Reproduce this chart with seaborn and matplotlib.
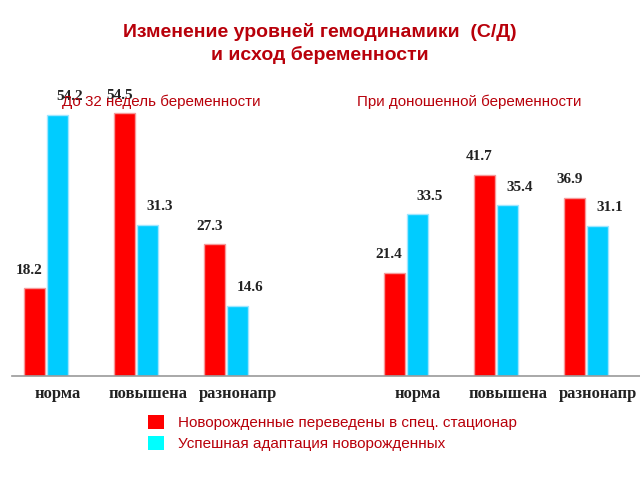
import pandas as pd
import seaborn as sns
import matplotlib.pyplot as plt

# data
groups = ['норма', 'повышена', 'разнонапр']
series = ['Новорожденные переведены в спец. стационар', 'Успешная адаптация новорожденных']
red_before = [18.2, 54.5, 27.3]
cyan_before = [54.2, 31.3, 14.6]
red_term = [21.4, 41.7, 36.9]
cyan_term = [33.5, 35.4, 31.1]

slots = ['a0', 'a1', 'a2', 'gap', 'b0', 'b1', 'b2']
rows = []
for i in range(3):
    rows.append(('a%d' % i, series[0], red_before[i]))
    rows.append(('a%d' % i, series[1], cyan_before[i]))
    rows.append(('b%d' % i, series[0], red_term[i]))
    rows.append(('b%d' % i, series[1], cyan_term[i]))
df = pd.DataFrame(rows, columns=['slot', 'series', 'value'])

sns.set_style('white')
plt.rcParams['font.family'] = ['Liberation Sans', 'DejaVu Sans']

dark_red = '#B8000A'
fig = plt.figure(figsize=(6.4, 4.8), dpi=100)
ax = fig.add_axes([12 / 640, 1 - 376 / 480, 628 / 640, 0.603])

sns.barplot(data=df, x='slot', y='value', hue='series', order=slots,
            hue_order=series, palette=['#FF0000', '#00CCFF'], saturation=1,
            width=0.5, gap=0.08, ax=ax)

edge = ['#F59A9A', '#9FE6FF']
offsets = [-4, 9]
for k, cont in enumerate(ax.containers):
    for bar in cont:
        bar.set_edgecolor(edge[k])
        bar.set_linewidth(1.0)
        h = bar.get_height()
        if h != h:
            continue
        ax.annotate('%.1f' % h, (bar.get_x() + bar.get_width() / 2, h),
                    xytext=(offsets[k], 13), textcoords='offset points',
                    ha='center', va='center', fontsize=11, fontweight='bold',
                    family='Liberation Serif', color='#222222')

ax.set_xlim(-0.378, 6.6)
ax.set_ylim(0, 60)
# labels sit a little right of the group centres in the original
ax.set_xticks([0.13, 1.13, 2.13, 4.13, 5.13, 6.13])
ax.set_xticklabels(groups + groups, family='Liberation Serif',
                   fontweight='bold', fontsize=12, color='#222222')
ax.tick_params(axis='x', length=0, pad=7)
ax.set_yticks([])
ax.set_xlabel('')
ax.set_ylabel('')
for s in ['top', 'left', 'right']:
    ax.spines[s].set_visible(False)
ax.spines['bottom'].set_color('#999999')
ax.spines['bottom'].set_linewidth(1.2)

fig.text(0.5, 1 - 32 / 480, 'Изменение уровней гемодинамики  (С/Д)',
         ha='center', va='center', fontsize=14, fontweight='bold', color=dark_red)
fig.text(0.5, 1 - 55 / 480, 'и исход беременности',
         ha='center', va='center', fontsize=14, fontweight='bold', color=dark_red)
fig.text(62 / 640, 1 - 102 / 480, 'До 32 недель беременности',
         ha='left', va='center', fontsize=10.9, color=dark_red)
fig.text(357 / 640, 1 - 102 / 480, 'При доношенной беременности',
         ha='left', va='center', fontsize=10.9, color=dark_red)

sns.move_legend(ax, loc='upper left', bbox_to_anchor=(140 / 640, 1 - 407 / 480),
                bbox_transform=fig.transFigure, frameon=False, title=None,
                fontsize=11, handlelength=1.1, handleheight=1.1,
                labelspacing=0.35, handletextpad=0.9, borderpad=0)
leg = ax.get_legend()
for t in leg.get_texts():
    t.set_color(dark_red)
leg.legend_handles[1].set_facecolor('#00FFFF')
for h in leg.legend_handles:
    h.set_edgecolor('none')

fig.savefig('out.png', dpi=100)
